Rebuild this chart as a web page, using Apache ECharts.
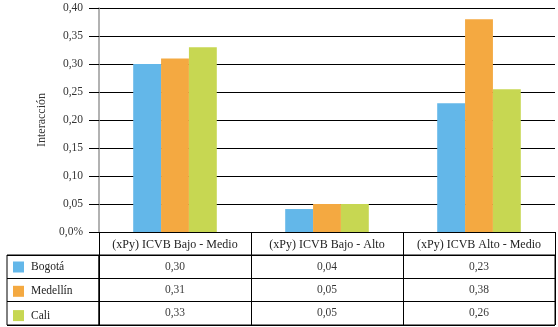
<!DOCTYPE html>
<html>
<head>
<meta charset="utf-8">
<script src="https://cdn.jsdelivr.net/npm/echarts@6/dist/echarts.min.js"></script>
<style>
  html, body { margin: 0; padding: 0; background: #fff; }
  #main { width: 558px; height: 327px; }
</style>
</head>
<body>
<div id="main"></div>
<script>
// data
const categories = ["(xPy) ICVB Bajo - Medio", "(xPy) ICVB Bajo - Alto", "(xPy) ICVB Alto - Medio"];
const cities = ["Bogotá", "Medellín", "Cali"];
const bogota = [0.30, 0.041, 0.23];
const medellin = [0.31, 0.05, 0.38];
const cali = [0.33, 0.05, 0.255];
const colors = ["#63B7E9", "#F4A941", "#C7D752"];

const FONT = "Liberation Serif";
const seriesValues = [bogota, medellin, cali];

function fmt(v) {
  return (Math.round(v * 100) / 100).toFixed(2).replace(".", ",");
}

// cells of the data table under the chart
const tableCells = [];
seriesValues.forEach(function (vals, i) {
  vals.forEach(function (v, j) {
    tableCells.push([categories[j], cities[i], v]);
  });
});

const myChart = echarts.init(document.getElementById("main"));
const option = {
  animation: false,
  textStyle: { fontFamily: FONT },
  legend: {
    data: cities,
    orient: "vertical",
    left: 13,
    top: 261,
    padding: 0,
    itemWidth: 11,
    itemHeight: 11,
    itemGap: 12.3,
    icon: "rect",
    textStyle: { fontFamily: FONT, fontSize: 11.5, color: "#222", lineHeight: 11, padding: [0, 0, 0, 2] },
  },
  grid: [
    // main chart
    { left: 99, right: 3, top: 8, bottom: 95 },
    // value cells of the table
    { left: 99, right: 3, top: 255, bottom: 2, show: true, borderColor: "#000", borderWidth: 1 },
    // legend column of the table
    { left: 7, width: 92, top: 255, bottom: 2, show: true, borderColor: "#000", borderWidth: 1 },
  ],
  xAxis: [
    {
      gridIndex: 0,
      type: "category",
      data: categories,
      axisLine: { lineStyle: { color: "#000", width: 1 } },
      axisTick: { show: true, interval: 0, length: 23, lineStyle: { color: "#000" } },
      axisLabel: { interval: 0, hideOverlap: false, fontFamily: FONT, fontSize: 12, color: "#222", margin: 7 },
    },
    {
      gridIndex: 1,
      type: "category",
      data: categories,
      axisLine: { show: false },
      axisTick: { show: false, interval: 0 },
      axisLabel: { show: false, interval: 0 },
      splitLine: { show: true, interval: 0, lineStyle: { color: "#000" } },
    },
    {
      gridIndex: 2,
      type: "category",
      data: [""],
      axisLine: { show: false },
      axisTick: { show: false },
      axisLabel: { show: false },
      splitLine: { show: false },
    },
  ],
  yAxis: [
    {
      gridIndex: 0,
      type: "value",
      min: 0,
      max: 0.4,
      interval: 0.05,
      name: "Interacción",
      nameLocation: "middle",
      nameRotate: 90,
      nameGap: 48,
      nameTextStyle: { fontFamily: FONT, fontSize: 12, color: "#333" },
      axisLine: { show: true, lineStyle: { color: "#999", width: 1.5 } },
      axisTick: { show: true, length: 10, lineStyle: { color: "#000" } },
      axisLabel: {
        fontFamily: FONT,
        fontSize: 11.5,
        color: "#333",
        margin: 16,
        formatter: function (v) {
          return v === 0 ? "0,0%" : v.toFixed(2).replace(".", ",");
        },
      },
      splitLine: { show: true, lineStyle: { color: "#000", width: 1 } },
    },
    {
      gridIndex: 1,
      type: "category",
      data: cities,
      inverse: true,
      axisLine: { show: false },
      axisTick: { show: false, interval: 0 },
      axisLabel: { show: false, interval: 0 },
      splitLine: { show: true, interval: 0, lineStyle: { color: "#000" } },
    },
    {
      gridIndex: 2,
      type: "category",
      data: cities,
      inverse: true,
      axisLine: { show: false },
      axisTick: { show: false, interval: 0 },
      axisLabel: { show: false, interval: 0 },
      splitLine: { show: true, interval: 0, lineStyle: { color: "#000" } },
    },
  ],
  series: cities
    .map(function (name, i) {
      return {
        name: name,
        type: "bar",
        xAxisIndex: 0,
        yAxisIndex: 0,
        data: seriesValues[i],
        barGap: 0,
        barCategoryGap: "45%",
        itemStyle: { color: colors[i] },
      };
    })
    .concat([
      {
        name: "tabla",
        type: "scatter",
        xAxisIndex: 1,
        yAxisIndex: 1,
        symbolSize: 1,
        itemStyle: { color: "transparent" },
        data: tableCells,
        label: {
          show: true,
          position: "inside",
          fontFamily: FONT,
          fontSize: 11.5,
          color: "#000",
          formatter: function (p) {
            return fmt(p.value[2]);
          },
        },
      },
    ]),
};
option && myChart.setOption(option);
</script>
</body>
</html>
